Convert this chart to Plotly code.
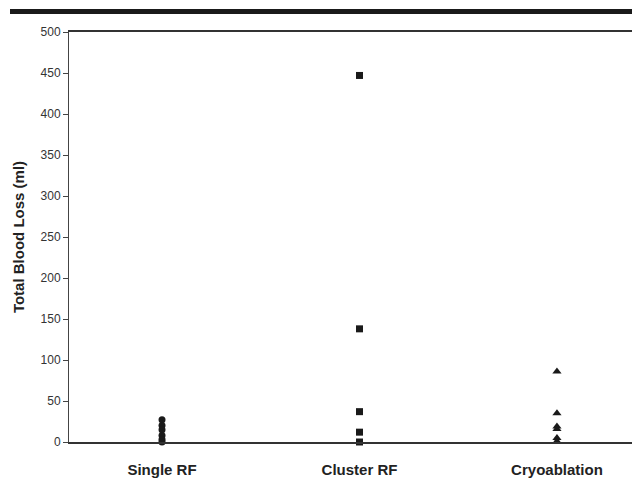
import plotly.graph_objects as go

categories = ["Single RF", "Cluster RF", "Cryoablation"]
single_rf = [27, 20, 15, 8, 3, 0]
cluster_rf = [447, 138, 37, 12, 0]
cryoablation = [86, 35, 19, 16, 5, 1, 0]
y_ticks = [0, 50, 100, 150, 200, 250, 300, 350, 400, 450, 500]

series = [(single_rf, "circle", 7), (cluster_rf, "square", 7), (cryoablation, "triangle-up", 8)]

fig = go.Figure()
for i, (vals, sym, sz) in enumerate(series):
    fig.add_trace(go.Scatter(
        x=[i + 1] * len(vals), y=vals, mode="markers",
        marker=dict(symbol=sym, size=sz, color="#1a1a1a"),
        cliponaxis=False, showlegend=False,
    ))

fig.update_layout(
    width=624, height=471,
    margin=dict(l=61, r=0, t=24, b=37),
    paper_bgcolor="white", plot_bgcolor="white",
    font=dict(family="Liberation Sans, Arial, sans-serif", color="#333"),
    xaxis=dict(
        range=[0.529, 3.38], tickmode="array", tickvals=[1, 2, 3],
        ticktext=["<b>%s</b>" % c for c in categories],
        showgrid=False, zeroline=False, showline=True, linecolor="#333", linewidth=1.5,
        mirror=True, ticks="", ticklabelstandoff=13,
        tickfont=dict(size=15, color="#222", family="Liberation Sans, Arial, sans-serif"),
    ),
    yaxis=dict(
        range=[0, 500], tickvals=y_ticks, showgrid=False, zeroline=False,
        showline=True, linecolor="#444", linewidth=1, ticks="outside", ticklen=5,
        tickcolor="#444", tickfont=dict(size=12, color="#333"),
        title=dict(text="<b>Total Blood Loss (ml)</b>", font=dict(size=15, color="#222"), standoff=12),
    ),
)
fig.add_shape(type="rect", xref="paper", yref="paper",
              x0=-59/563, x1=1.02, y0=1 + 18/410, y1=1 + 23/410,
              fillcolor="#1a1a1a", line=dict(width=0))
fig.write_html("out.html")
